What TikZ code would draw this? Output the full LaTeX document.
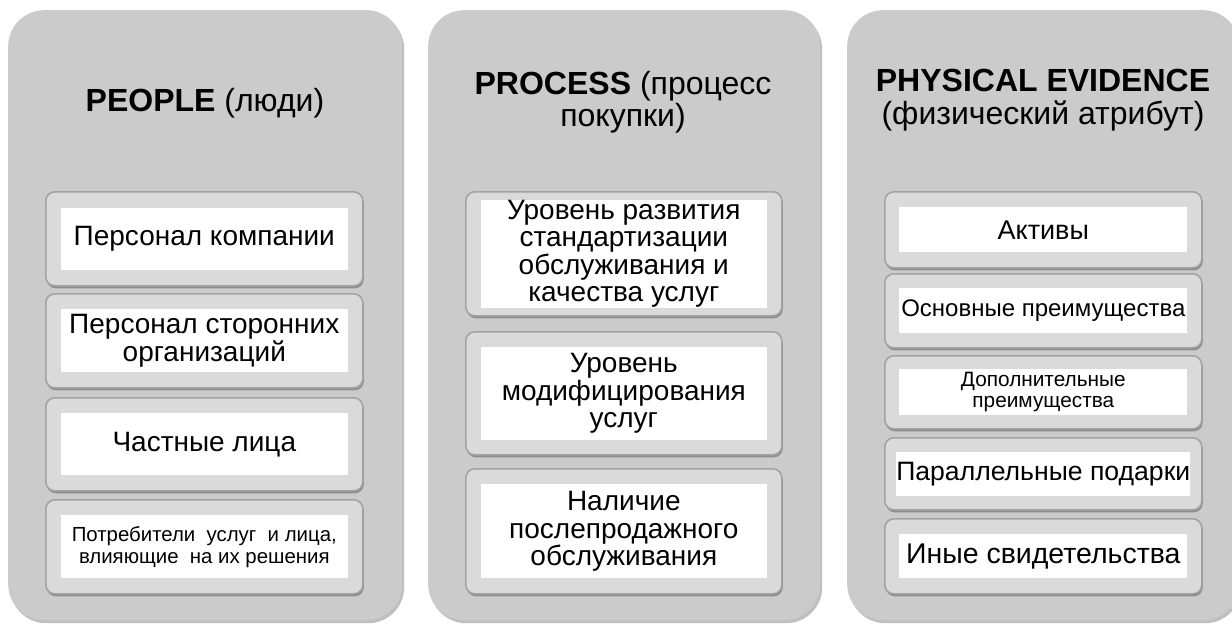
\documentclass[tikz,border=0pt]{standalone}
\usepackage{fontspec}
\setmainfont{Liberation Sans}
\usetikzlibrary{shadows}
\definecolor{panelgray}{HTML}{CBCBCB}
\definecolor{boxgray}{HTML}{DADADA}
\definecolor{boxedge}{HTML}{A3A3A3}
\tikzset{
  panel/.style={fill=panelgray, rounded corners=36pt, anchor=north west, inner sep=0pt,
    drop shadow={shadow xshift=2pt, shadow yshift=-3pt, opacity=0.25, fill=black}},
  outerbox/.style={fill=boxgray, draw=boxedge, line width=1.6pt, rounded corners=9pt, anchor=north west, inner sep=0pt,
    drop shadow={shadow xshift=1pt, shadow yshift=-2.5pt, opacity=0.3, fill=black}},
  whitebox/.style={fill=white, inner sep=0pt, align=center, text=black},
  title/.style={align=center, font=\fontsize{32}{32.5}\selectfont},
}
\begin{document}
\begin{tikzpicture}[x=1pt,y=-1pt]
\useasboundingbox (0,0) rectangle (1232,624);
\clip (0,0) rectangle (1232,624);
\fill[white] (0,0) rectangle (1232,624);
% panels
\node[panel, minimum width=394pt, minimum height=610pt] (p1) at (8,10) {};
\node[panel, minimum width=392pt, minimum height=610pt] (p2) at (428,10) {};
\node[panel, minimum width=392pt, minimum height=610pt] (p3) at (847,10) {};
% titles
\node[title] (t1) at (205,103) {\textbf{PEOPLE} (люди)};
\node[title] (t2) at (623,102) {\textbf{PROCESS} (процесс\\покупки)};
\node[title] (t3) at (1043,100) {\textbf{PHYSICAL EVIDENCE}\\(физический атрибут)};
% panel 1 boxes
\foreach \n/\ya/\yb in {a/191/285, b/293/387, c/397/490, d/499/593}{
  \node[outerbox, minimum width=317pt, minimum height={(\yb-\ya)*1pt}] (o1\n) at (45,\ya) {};
}
\node[whitebox, minimum width=287pt, minimum height=62pt, font=\fontsize{28}{28}\selectfont] (w1a) at (o1a.center) {Персонал компании};
\node[whitebox, minimum width=287pt, minimum height=63pt, font=\fontsize{28}{28}\selectfont] (w1b) at (o1b.center) {Персонал сторонних\\организаций};
\node[whitebox, minimum width=287pt, minimum height=62pt, font=\fontsize{28}{28}\selectfont] (w1c) at (o1c.center) {Частные лица};
\node[whitebox, minimum width=287pt, minimum height=63pt, font=\fontsize{20.4}{22}\selectfont] (w1d) at (o1d.center) {Потребители\ \ услуг\ \ и лица,\\влияющие\ \ на их решения};
% panel 2 boxes
\foreach \n/\ya/\yb in {a/191/315, b/331/454, c/468/593}{
  \node[outerbox, minimum width=316pt, minimum height={(\yb-\ya)*1pt}] (o2\n) at (465,\ya) {};
}
\node[whitebox, minimum width=286pt, minimum height=93pt, font=\fontsize{28}{27.5}\selectfont] (w2a) at (o2a.center) {Уровень развития\\стандартизации\\обслуживания и\\качества услуг};
\node[whitebox, minimum width=286pt, minimum height=93pt, font=\fontsize{28}{27.5}\selectfont] (w2b) at (o2b.center) {Уровень\\модифицирования\\услуг};
\node[whitebox, minimum width=286pt, minimum height=94pt, font=\fontsize{28}{27.5}\selectfont] (w2c) at (o2c.center) {Наличие\\послепродажного\\обслуживания};
% panel 3 boxes
\foreach \n/\ya/\yb in {a/191/267, b/273/347, c/355/428, d/437/509, e/518/593}{
  \node[outerbox, minimum width=317pt, minimum height={(\yb-\ya)*1pt}] (o3\n) at (884,\ya) {};
}
\node[whitebox, minimum width=288pt, minimum height=45pt, font=\fontsize{27}{28}\selectfont] (w3a) at (o3a.center) {Активы};
\node[whitebox, minimum width=288pt, minimum height=45pt, font=\fontsize{24}{26}\selectfont] (w3b) at (o3b.center) {Основные преимущества};
\node[whitebox, minimum width=288pt, minimum height=46pt, font=\fontsize{20.8}{21}\selectfont] (w3c) at (o3c.center) {Дополнительные\\преимущества};
\node[whitebox, minimum width=288pt, minimum height=44pt, font=\fontsize{26.6}{28}\selectfont] (w3d) at (o3d.center) {Параллельные подарки};
\node[whitebox, minimum width=288pt, minimum height=44pt, font=\fontsize{28.5}{28}\selectfont] (w3e) at (o3e.center) {Иные свидетельства};
\end{tikzpicture}
\end{document}
